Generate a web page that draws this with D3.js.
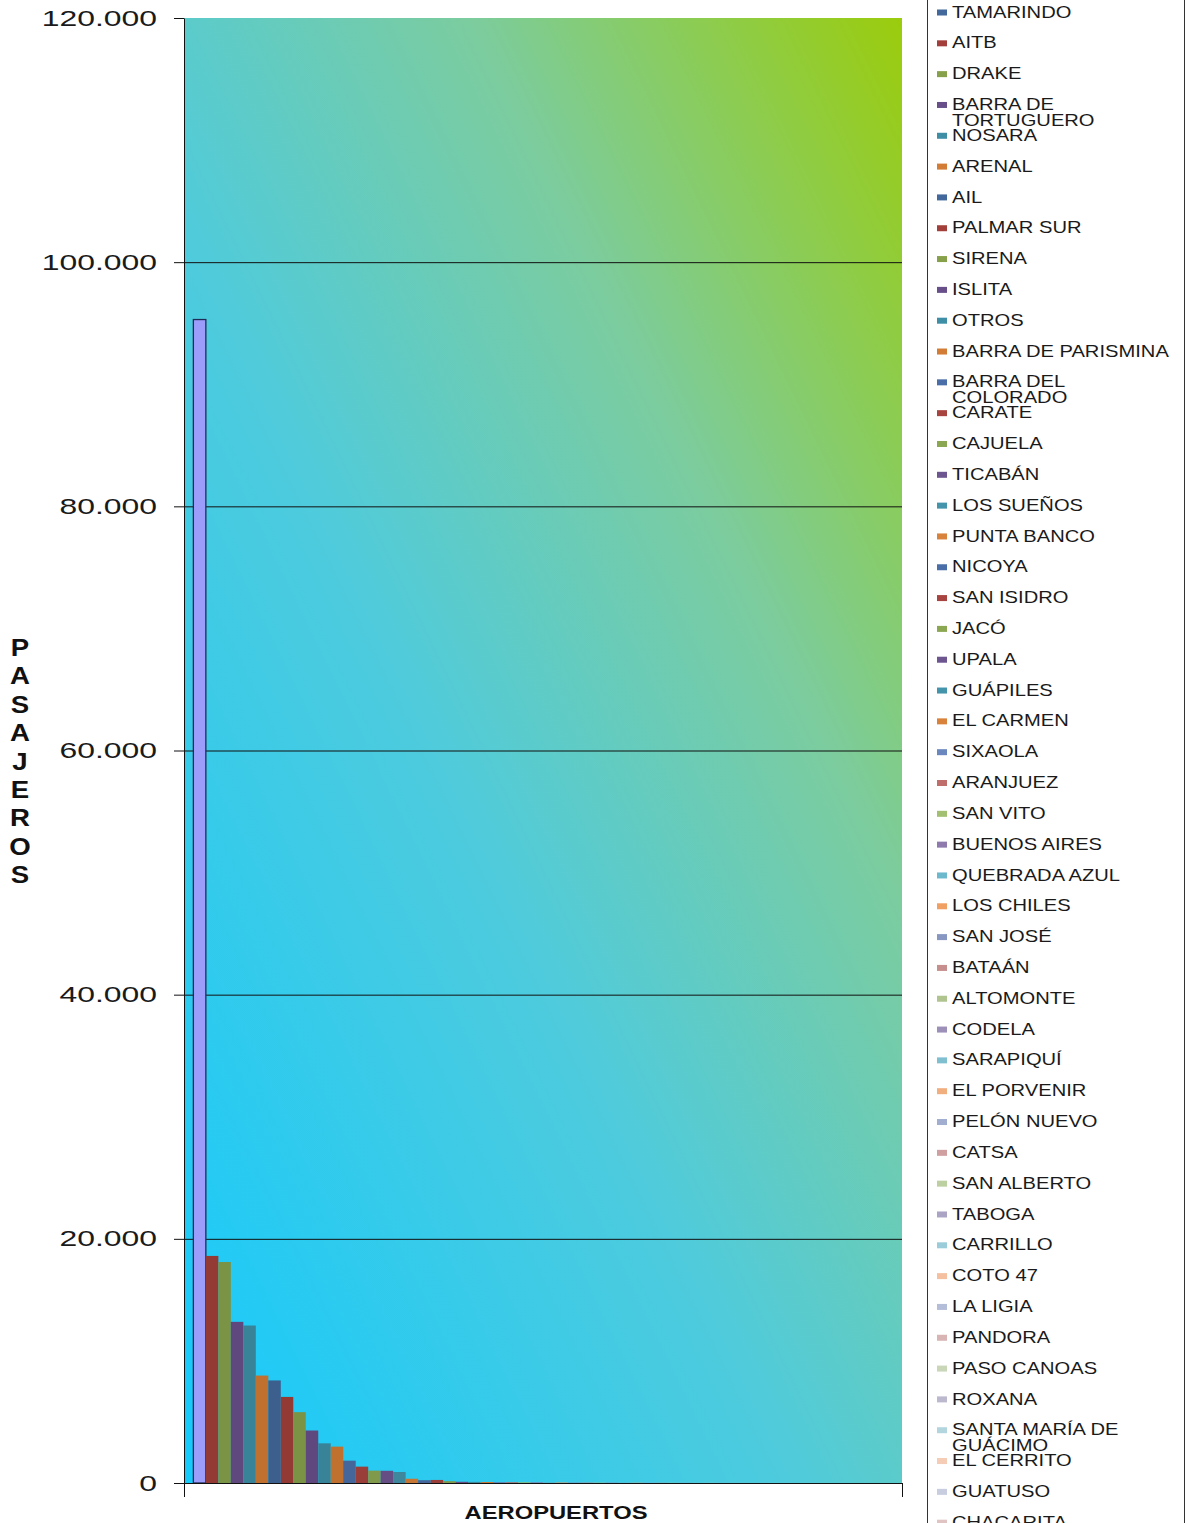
<!DOCTYPE html>
<html><head><meta charset="utf-8">
<script src="https://cdn.jsdelivr.net/npm/d3@7"></script>
<style>body{margin:0;background:#fff;overflow:hidden}svg{display:block}</style>
</head><body>
<svg id="c" width="1186" height="1523"></svg>
<script>
const airports = ["TAMARINDO","AITB","DRAKE","BARRA DE TORTUGUERO","NOSARA","ARENAL","AIL","PALMAR SUR","SIRENA","ISLITA","OTROS","BARRA DE PARISMINA","BARRA DEL COLORADO","CARATE","CAJUELA","TICABÁN","LOS SUEÑOS","PUNTA BANCO","NICOYA","SAN ISIDRO","JACÓ","UPALA","GUÁPILES","EL CARMEN","SIXAOLA","ARANJUEZ","SAN VITO","BUENOS AIRES","QUEBRADA AZUL","LOS CHILES","SAN JOSÉ","BATAÁN","ALTOMONTE","CODELA","SARAPIQUÍ","EL PORVENIR","PELÓN NUEVO","CATSA","SAN ALBERTO","TABOGA","CARRILLO","COTO 47","LA LIGIA","PANDORA","PASO CANOAS","ROXANA","SANTA MARÍA DE GUÁCIMO","EL CERRITO","GUATUSO","CHACARITA","LA FLOR","MARAVILLA","COTO 63","FINCA 63","OSA","CORRAL DE PIEDRA"];
const passengers = [95300,18600,18100,13200,12900,8800,8400,7050,5800,4300,3250,2980,1830,1340,1010,1000,900,350,230,250,150,100,90,80,70,60,55,50,45,40,35,30,28,25,22,20,18,16,15,13,12,10,9,8,7,6,5,5,4,4,3,3,2,2,1,1];
const seriesColors = [
 "#43689B","#A23F3A","#86A14A","#684F8A","#3E8FA6","#D27C35",
 "#43689B","#A23F3A","#86A14A","#684F8A","#3E8FA6","#D27C35",
 "#4A6FA8","#A8443F","#8CA752","#6D5590","#4494AB","#D8823B",
 "#4A6FA8","#A8443F","#8CA752","#6D5590","#4494AB","#D8823B",
 "#6A88BE","#C06E6B","#A2BF72","#8F7AAE","#6CB8CD","#F1A064",
 "#8797C2","#C68E8C","#AFC48E","#9C8FB8","#80BFD0","#F1AE7E",
 "#A2AED0","#D0A0A0","#BDD0A2","#ABA4C4","#9BCCD9","#F4C0A0",
 "#B5BED8","#D8B4B4","#C9D6B8","#BCB8CE","#B3D5DE","#F5CCB5",
 "#C8CEE0","#E0C4C4","#D4DDC8","#CAC6D8","#C5DEE5","#F5D9C8",
 "#D4D8E6","#E6D0D0"];
const firstBarColor = "#9C9CFA";
const yTicks = [0,20000,40000,60000,80000,100000,120000];
const yTitle = "PASAJEROS";
const xTitle = "AEROPUERTOS";

const svg = d3.select("#c");
const L = 184, R = 902, T = 18, B = 1483;
const fmt = d3.formatLocale({decimal:",",thousands:".",grouping:[3],currency:["",""]}).format(",");

const defs = svg.append("defs");
const g = defs.append("linearGradient").attr("id","bg").attr("x1",0).attr("y1",1).attr("x2",1).attr("y2",0);
[[0,"#15CAFC"],[0.42,"#4ECBDD"],[0.7,"#7CCC9E"],[1,"#9BCC0C"]].forEach(s=>g.append("stop").attr("offset",s[0]).attr("stop-color",s[1]));

svg.append("rect").attr("x",L).attr("y",T).attr("width",R-L).attr("height",B-T).attr("fill","url(#bg)");

const y = d3.scaleLinear().domain([0,120000]).range([B,T]);
const x = d3.scaleBand().domain(airports).range([L,R]).paddingInner(0).paddingOuter(0.75);

// gridlines
svg.append("g").attr("transform",`translate(${L},0)`)
  .call(d3.axisLeft(y).tickValues(yTicks.filter(v=>v>0&&v<120000)).tickSize(-(R-L)).tickFormat(""))
  .call(a=>a.select(".domain").remove())
  .call(a=>a.selectAll("line").attr("stroke","#111").attr("stroke-width",1));

// bars
svg.append("g").selectAll("rect").data(airports).join("rect")
  .attr("x",d=>x(d)).attr("width",x.bandwidth())
  .attr("y",(d,i)=>y(passengers[i])).attr("height",(d,i)=>y(0)-y(passengers[i]))
  .attr("fill",(d,i)=>i===0?firstBarColor:d3.color(seriesColors[i]).darker(0.25))
  .attr("stroke",(d,i)=>i===0?"#1E2B55":"none").attr("stroke-width",1.3);

// y axis
const ya = svg.append("g").attr("transform",`translate(${L},0)`)
  .call(d3.axisLeft(y).tickValues(yTicks).tickSize(10).tickSizeOuter(0).tickFormat(fmt));
ya.select(".domain").attr("stroke","#111");
ya.selectAll("line").attr("stroke","#111");
ya.selectAll("text").attr("font-family","'Liberation Sans',Arial,sans-serif").attr("font-size",22)
  .attr("fill","#1a1a1a").attr("x",-27/1.45).attr("transform","scale(1.45,1)");

// x axis
const xl = d3.scaleLinear().domain([0,1]).range([L,R]);
const xa = svg.append("g").attr("transform",`translate(0,${B})`)
  .call(d3.axisBottom(xl).tickValues([0,1]).tickSize(14).tickSizeOuter(0).tickFormat(""));
xa.select(".domain").attr("stroke","#111");
xa.selectAll("line").attr("stroke","#111");

// titles
svg.append("g").attr("transform","translate(556,1519) scale(1.25,1)")
  .append("text").attr("text-anchor","middle").attr("font-family","'Liberation Sans',Arial,sans-serif")
  .attr("font-weight","bold").attr("font-size",19).attr("fill","#111").text(xTitle);
const yt = svg.append("g");
yTitle.split("").forEach((ch,i)=>{
  yt.append("text").attr("transform",`translate(20,${648+i*28.4+8}) scale(1.2,1)`)
    .attr("text-anchor","middle").attr("font-family","'Liberation Sans',Arial,sans-serif")
    .attr("font-weight","bold").attr("font-size",23).attr("fill","#111").text(ch);
});

// legend
svg.append("rect").attr("x",927.5).attr("y",-5).attr("width",257).attr("height",1540)
  .attr("fill","#fff").attr("stroke","#333").attr("stroke-width",1);
const lg = svg.append("g");
const step = 30.82, y0 = 12, sx = 1.26, maxW = 184;
airports.forEach((name,i)=>{
  const cy = y0 + i*step;
  lg.append("rect").attr("x",937).attr("y",cy-2.5).attr("width",10).attr("height",6).attr("fill",seriesColors[i]);
  const t = lg.append("g").attr("transform",`translate(952,${cy+5.6}) scale(${sx},1)`);
  const words = name.split(" ");
  let lines = [], cur = "";
  const probe = t.append("text").attr("font-family","'Liberation Sans',Arial,sans-serif").attr("font-size",16);
  words.forEach(w=>{
    const test = cur ? cur+" "+w : w;
    probe.text(test);
    if (cur && probe.node().getComputedTextLength() > maxW) { lines.push(cur); cur = w; }
    else cur = test;
  });
  lines.push(cur);
  probe.remove();
  lines.forEach((ln,j)=>{
    t.append("text").attr("y",j*15.5).attr("font-family","'Liberation Sans',Arial,sans-serif")
      .attr("font-size",16).attr("fill","#1a1a1a").text(ln);
  });
});
</script>
</body></html>
